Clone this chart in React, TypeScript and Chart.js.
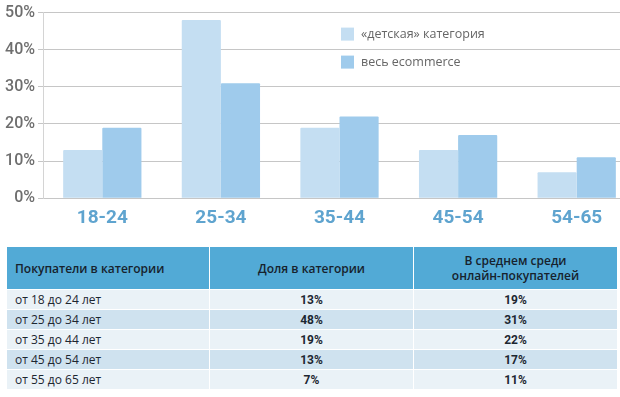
import React, { useEffect, useRef } from "react";
import { Chart, registerables } from "chart.js";

Chart.register(...registerables);

const categories = ["18-24", "25-34", "35-44", "45-54", "54-65"];
const childShare = [13, 48, 19, 13, 7];
const allShare = [19, 31, 22, 17, 11];
const seriesLabels = ["«детская» категория", "весь ecommerce"];
const yTicks = [0, 10, 20, 30, 40, 50];
const rowLabels = ["от 18 до 24 лет", "от 25 до 34 лет", "от 35 до 44 лет", "от 45 до 54 лет", "от 55 до 65 лет"];
const headers = ["Покупатели в категории", "Доля в категории", "В среднем среди\nонлайн-покупателей"];

const LIGHT = "#c4def2";
const DARK = "#9fcbec";

const legendPlugin = {
  id: "customLegend",
  afterDraw(chart: any) {
    const { ctx, chartArea } = chart;
    const x = chartArea.left + 298;
    const y0 = chartArea.top + 15;
    chart.data.datasets.forEach((ds: any, i: number) => {
      const y = y0 + i * 28;
      ctx.save();
      ctx.fillStyle = ds.backgroundColor;
      ctx.fillRect(x, y, 13, 13);
      ctx.fillStyle = "#666666";
      ctx.font = "12.5px 'Open Sans'";
      ctx.textBaseline = "middle";
      ctx.textAlign = "left";
      ctx.fillText(ds.label, x + 20, y + 7);
      ctx.restore();
    });
  },
};

export default function App() {
  const ref = useRef<HTMLCanvasElement>(null);
  useEffect(() => {
    document.body.style.margin = "0";
    const chart = new Chart(ref.current!, {
      type: "bar",
      data: {
        labels: categories,
        datasets: [
          { label: seriesLabels[0], data: childShare, backgroundColor: LIGHT, borderRadius: 1 },
          { label: seriesLabels[1], data: allShare, backgroundColor: DARK, borderRadius: 1 },
        ],
      },
      options: {
        animation: false,
        responsive: false,
        devicePixelRatio: 1,
        layout: { padding: { top: 7, right: 0, bottom: 2, left: 0 } },
        plugins: { legend: { display: false }, tooltip: { enabled: false } },
        datasets: { bar: { categoryPercentage: 0.66, barPercentage: 1 } },
        scales: {
          x: {
            grid: { display: false },
            border: { display: false },
            ticks: {
              color: "#5fa4cf",
              font: { family: "Roboto", size: 19, weight: "bold" },
              padding: 1,
            },
          },
          y: {
            min: 0,
            max: 50,
            afterFit: (s: any) => {
              s.width = 43;
            },
            afterBuildTicks: (s: any) => {
              s.ticks = yTicks.map((v) => ({ value: v }));
            },
            grid: { color: "#c6c6c6", lineWidth: 1, tickLength: 5 },
            border: { display: true, color: "#d4d4d4" },
            ticks: {
              color: "#6e6e6e",
              font: { family: "Roboto", size: 16, weight: "500" },
              padding: 3,
              callback: (v: any) => v + "%",
            },
          },
        },
      },
      plugins: [legendPlugin],
    });
    return () => chart.destroy();
  }, []);

  const cellBase: React.CSSProperties = {
    border: "1px solid #ffffff",
    padding: "0 8px",
    height: 19,
  };
  const numStyle: React.CSSProperties = {
    ...cellBase,
    textAlign: "center",
    fontFamily: "Roboto",
    fontWeight: 700,
    fontSize: 12,
    color: "#1d2731",
  };

  return (
    <div style={{ position: "relative", width: 620, height: 397, overflow: "hidden", background: "#fff" }}>
      <div style={{ position: "absolute", left: 0, top: 0 }}>
        <canvas ref={ref} width={636} height={233} style={{ display: "block" }} />
      </div>
      <table
        style={{
          position: "absolute",
          left: 6,
          top: 247,
          width: 611,
          borderCollapse: "collapse",
          fontFamily: "'Open Sans'",
          fontSize: 12,
          color: "#1d2731",
          tableLayout: "fixed",
        }}
      >
        <colgroup>
          <col style={{ width: 203 }} />
          <col style={{ width: 204 }} />
          <col style={{ width: 204 }} />
        </colgroup>
        <thead>
          <tr style={{ background: "#52aad6" }}>
            {headers.map((h, i) => (
              <th
                key={i}
                style={{
                  border: "1px solid #ffffff",
                  borderTop: "none",
                  height: 42,
                  padding: "0 8px",
                  fontWeight: 600,
                  fontSize: 12,
                  lineHeight: "15px",
                  textAlign: i === 0 ? "left" : "center",
                  whiteSpace: "pre-line",
                  color: "#17222d",
                }}
              >
                {h}
              </th>
            ))}
          </tr>
        </thead>
        <tbody>
          {rowLabels.map((r, i) => (
            <tr key={r} style={{ background: i % 2 === 0 ? "#eaf2f7" : "#cfe2ef" }}>
              <td style={cellBase}>{r}</td>
              <td style={numStyle}>{childShare[i]}%</td>
              <td style={numStyle}>{allShare[i]}%</td>
            </tr>
          ))}
        </tbody>
      </table>
    </div>
  );
}
